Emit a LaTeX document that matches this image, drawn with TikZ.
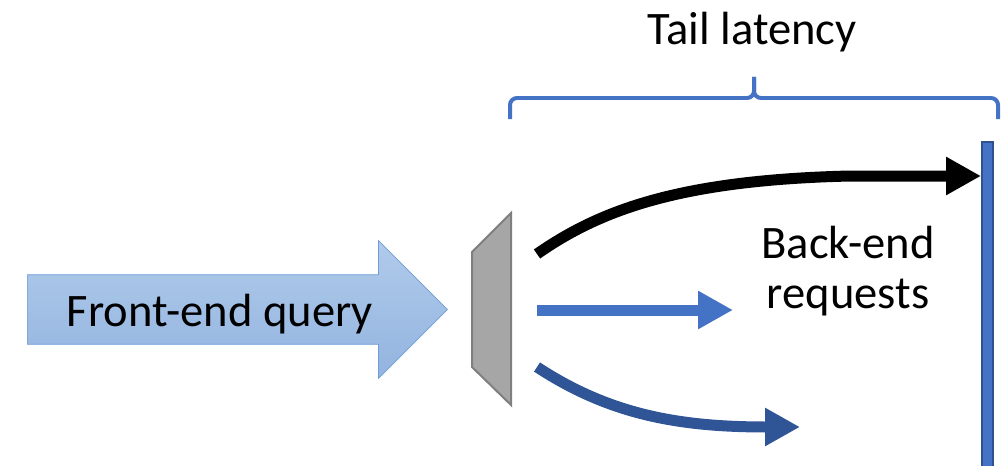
\documentclass[tikz,border=0pt]{standalone}
\usepackage{fontspec}
\setmainfont{Carlito}
\usetikzlibrary{arrows.meta,positioning,calc}
\usetikzlibrary{shapes.arrows}

\definecolor{queryTop}{HTML}{B0CAEA}
\definecolor{queryBottom}{HTML}{93B4E0}
\definecolor{queryEdge}{HTML}{6E9DD8}
\definecolor{splitFill}{HTML}{A6A6A6}
\definecolor{splitEdge}{HTML}{7F7F7F}
\definecolor{reqBlue}{HTML}{4472C4}
\definecolor{reqDark}{HTML}{2F5597}
\definecolor{barEdge}{HTML}{2F528F}

\tikzset{
  label text/.style = {font=\fontsize{26.5}{28}\selectfont, inner sep=0pt},
  request/.style = {line width=0.22cm, -{Triangle[length=0.7cm, width=0.72cm]}},
  brace line/.style = {reqBlue, line width=0.08cm, rounded corners=0.14cm},
}

\begin{document}
\begin{tikzpicture}[x=0.02cm, y=-0.02cm]
    \useasboundingbox (0,0) rectangle (1003,466);

    \node (query) [single arrow, draw=queryEdge, top color=queryTop, bottom color=queryBottom, minimum height=8.4cm, single arrow head extend=0.68cm, inner xsep=0pt, inner ysep=0.69cm, anchor=tail] at (27,309.5) {};
    \node (querytext) [label text, anchor=base] at (220,326) {Front-end query};

    % splitter
    \draw[splitEdge, fill=splitFill, line width=0.04cm] (472,252) -- (511,213) -- (511,405) -- (472,367) -- cycle;
    \coordinate (split) at (511,310);

    \coordinate (slow) at ($(split) + (26,-56)$);
    \coordinate (mid) at ($(split) + (26,0)$);
    \coordinate (low) at ($(split) + (26,57)$);

    % deadline bar
    \draw[barEdge, fill=reqBlue, line width=0.03cm] (982,142) rectangle (993,470);
    \coordinate (deadline) at (981,176);

    \draw[request, black] (slow) .. controls (600,210) and (680,180) .. (850,176) -- (deadline);
    \draw[request, reqBlue] (mid) -- (733,310);
    \draw[request, reqDark] (low) .. controls (610,415) and (680,427) .. (800,427);

    \node (backend) [label text, align=center, anchor=base] at (848,308) {Back-end\\requests};

    % brace over the back-end part
    \draw[brace line] (510,119) -- (510,98) -- (754,98) -- (754,77);
    \draw[brace line] (998,119) -- (998,98) -- (754,98) -- (754,77);
    \node (tail) [label text, anchor=base] at (752,45) {Tail latency};
\end{tikzpicture}
\end{document}
